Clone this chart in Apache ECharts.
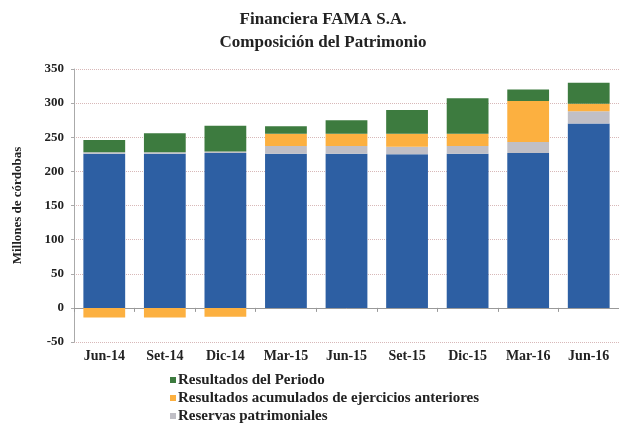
<!DOCTYPE html>
<html>
<head>
<meta charset="utf-8">
<script src="https://cdn.jsdelivr.net/npm/echarts@6/dist/echarts.min.js"></script>
<style>
  html, body { margin: 0; padding: 0; background: #fff; }
  #chart { width: 619px; height: 426px; }
</style>
</head>
<body>
<div id="chart"></div>
<script>
const periods = ['Jun-14', 'Set-14', 'Dic-14', 'Mar-15', 'Jun-15', 'Set-15', 'Dic-15', 'Mar-16', 'Jun-16']
const capital = [226, 226, 227, 226, 226, 225, 226, 227, 270]
const reservas = [2, 2, 2, 11, 11, 11, 11, 16, 18]
const acumulados = [-14, -14, -13, 18, 18, 19, 18, 60, 11]
const periodo = [18, 28, 38, 11, 20, 35, 52, 17, 31]
const yTicks = [-50, 350, 50]

const serif = '"Liberation Serif", "DejaVu Serif", serif'

const chart = echarts.init(document.getElementById('chart'))
chart.setOption({
  animation: false,
  color: ['#2d5fa3', '#c0bfc6', '#fcb040', '#3d7b3f'],
  title: {
    text: 'Financiera FAMA S.A.\nComposición del Patrimonio',
    left: 318,
    textAlign: 'center',
    top: 3,
    textStyle: {
      fontFamily: serif,
      fontWeight: 'bold',
      fontSize: 17,
      lineHeight: 23,
      color: '#222'
    }
  },
  legend: {
    orient: 'vertical',
    left: 170,
    top: 372,
    padding: 0,
    itemGap: 2,
    itemWidth: 6,
    itemHeight: 6,
    icon: 'rect',
    data: ['Resultados del Periodo', 'Resultados acumulados de ejercicios anteriores', 'Reservas patrimoniales'],
    textStyle: {
      fontFamily: serif,
      fontWeight: 'bold',
      fontSize: 15,
      lineHeight: 16,
      color: '#222',
      padding: [0, 0, 0, -3]
    }
  },
  grid: {
    left: 74,
    top: 69,
    width: 549,
    height: 273
  },
  xAxis: {
    type: 'category',
    data: periods,
    axisLine: { onZero: true, lineStyle: { color: '#999' } },
    axisTick: { show: true, length: 4, lineStyle: { color: '#999' } },
    axisLabel: {
      interval: 0,
      fontFamily: serif,
      fontWeight: 'bold',
      fontSize: 14,
      color: '#222',
      margin: 7
    }
  },
  yAxis: {
    type: 'value',
    min: yTicks[0],
    max: yTicks[1],
    interval: yTicks[2],
    name: 'Millones de córdobas',
    nameLocation: 'middle',
    nameGap: 50,
    nameRotate: 90,
    nameTextStyle: {
      fontFamily: serif,
      fontWeight: 'bold',
      fontSize: 13,
      color: '#222'
    },
    axisLine: { show: true, lineStyle: { color: '#aaa' } },
    axisTick: { show: true, length: 3, lineStyle: { color: '#aaa' } },
    axisLabel: {
      fontFamily: serif,
      fontWeight: 'bold',
      fontSize: 13,
      color: '#222',
      margin: 10
    },
    splitLine: { lineStyle: { color: '#d8b8b8', type: 'dotted', width: 1 } }
  },
  series: [
    { name: 'Capital', type: 'bar', stack: 'p', data: capital, barCategoryGap: '31%' },
    { name: 'Reservas patrimoniales', type: 'bar', stack: 'p', data: reservas },
    { name: 'Resultados acumulados de ejercicios anteriores', type: 'bar', stack: 'p', data: acumulados },
    { name: 'Resultados del Periodo', type: 'bar', stack: 'p', data: periodo }
  ]
})
</script>
</body>
</html>
